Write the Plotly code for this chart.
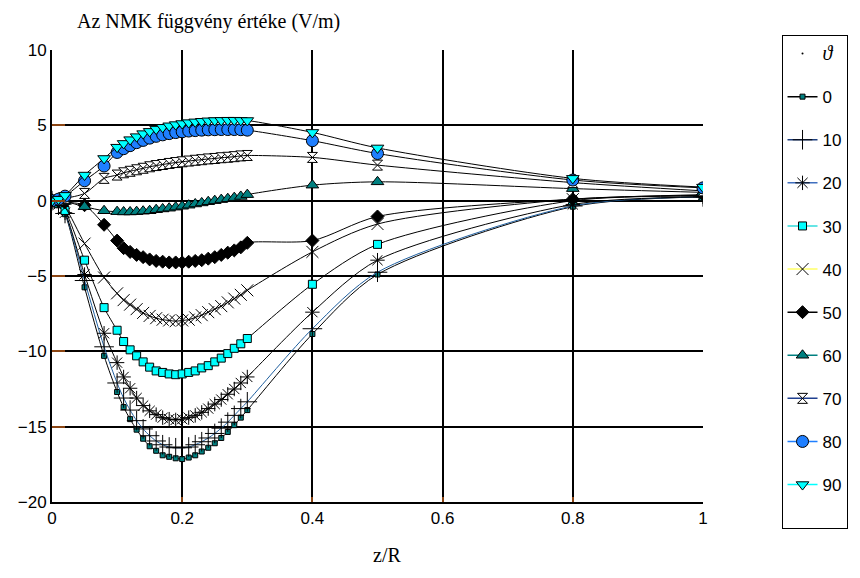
import plotly.graph_objects as go

# ---- data ----
z_R = [0, 0.01, 0.02, 0.05, 0.08,
       0.10, 0.11, 0.12, 0.13, 0.14, 0.15, 0.16, 0.17, 0.18, 0.19, 0.20,
       0.21, 0.22, 0.23, 0.24, 0.25, 0.26, 0.27, 0.28, 0.29, 0.30,
       0.4, 0.5, 0.8, 1.0]

theta_labels = ["0", "10", "20", "30", "40", "50", "60", "70", "80", "90"]

s0 = [0, -0.3, -0.9, -5.75, -10.3, -12.7, -13.7, -14.5, -15.2, -15.8, -16.3, -16.6, -16.9, -17.0, -17.1, -17.15,
      -17.05, -16.9, -16.65, -16.4, -16.1, -15.75, -15.35, -14.9, -14.4, -13.9, -8.85, -4.9, -0.4, 0.25]
s10 = [0, -0.3, -0.85, -5.3, -9.7, -12.1, -13.1, -13.9, -14.6, -15.15, -15.6, -15.95, -16.2, -16.35, -16.4, -16.4,
       -16.35, -16.2, -16.0, -15.75, -15.45, -15.1, -14.7, -14.25, -13.8, -13.35, -8.5, -4.75, -0.35, 0.25]
s20 = [0, -0.25, -0.8, -4.9, -8.8, -10.75, -11.7, -12.45, -13.1, -13.6, -13.95, -14.2, -14.4, -14.5, -14.55, -14.5,
       -14.4, -14.25, -14.05, -13.8, -13.5, -13.2, -12.85, -12.5, -12.1, -11.7, -7.4, -3.95, -0.25, 0.25]
s30 = [0, -0.2, -0.65, -3.95, -7.1, -8.6, -9.35, -9.9, -10.3, -10.7, -11.05, -11.3, -11.4, -11.5, -11.55, -11.5,
       -11.4, -11.3, -11.1, -10.95, -10.7, -10.45, -10.15, -9.8, -9.5, -9.15, -5.55, -2.9, 0.0, 0.3]
s40 = [0, -0.15, -0.45, -2.85, -5.1, -6.15, -6.6, -6.9, -7.2, -7.45, -7.65, -7.8, -7.9, -7.95, -8.0, -7.95,
       -7.9, -7.75, -7.6, -7.4, -7.2, -7.0, -6.75, -6.5, -6.25, -5.95, -3.4, -1.55, 0.1, 0.35]
s50 = [0, -0.05, -0.1, -0.3, -1.6, -2.65, -3.15, -3.4, -3.6, -3.75, -3.9, -4.0, -4.05, -4.1, -4.1, -4.1,
       -4.05, -4.0, -3.95, -3.85, -3.75, -3.6, -3.45, -3.3, -3.1, -2.8, -2.65, -1.05, 0.1, 0.4]
s60 = [0, 0, -0.05, -0.4, -0.67, -0.73, -0.75, -0.75, -0.73, -0.7, -0.67, -0.6, -0.55, -0.5, -0.43, -0.37,
       -0.3, -0.22, -0.15, -0.07, 0.0, 0.07, 0.13, 0.2, 0.28, 0.4, 1.03, 1.25, 0.8, 0.55]
s70 = [0, 0.05, 0.15, 0.48, 1.48, 1.7, 1.85, 1.95, 2.05, 2.15, 2.25, 2.33, 2.4, 2.47, 2.53, 2.58,
       2.63, 2.68, 2.72, 2.77, 2.8, 2.85, 2.88, 2.92, 2.97, 3.0, 2.87, 2.36, 1.2, 0.65]
s80 = [0, 0.1, 0.3, 1.32, 2.3, 3.2, 3.45, 3.65, 3.85, 4.0, 4.15, 4.27, 4.37, 4.45, 4.52, 4.57,
       4.62, 4.65, 4.68, 4.7, 4.71, 4.72, 4.72, 4.72, 4.71, 4.68, 3.98, 3.13, 1.37, 0.85]
s90 = [0, 0.1, 0.35, 1.7, 2.8, 3.55, 3.8, 4.05, 4.25, 4.45, 4.6, 4.75, 4.87, 4.97, 5.05, 5.12,
       5.18, 5.23, 5.27, 5.3, 5.32, 5.33, 5.34, 5.34, 5.33, 5.32, 4.53, 3.5, 1.48, 0.9]

series = [s0, s10, s20, s30, s40, s50, s60, s70, s80, s90]

x_ticks = [0, 0.2, 0.4, 0.6, 0.8, 1]
x_tick_text = ["0", "0.2", "0.4", "0.6", "0.8", "1"]
y_ticks = [-20, -15, -10, -5, 0, 5, 10]

# ---- styles ----
TEAL = "#008080"
CYAN = "#00FFFF"
BLUE = "#1F7FFF"
styles = [
    dict(symbol="square", size=5, color=TEAL, lc="black", lw=1),
    dict(symbol="cross-thin-open", size=14, color="black", lc="black", lw=1),
    dict(symbol="asterisk-open", size=12, color="black", lc="black", lw=1),
    dict(symbol="square", size=8, color=CYAN, lc="black", lw=1),
    dict(symbol="x-thin-open", size=12, color="black", lc="black", lw=1),
    dict(symbol="diamond", size=10, color="black", lc="black", lw=1),
    dict(symbol="triangle-up", size=11, color=TEAL, lc="black", lw=1),
    dict(symbol="hourglass", size=10, color="white", lc="black", lw=1),
    dict(symbol="circle", size=12, color=BLUE, lc="black", lw=1),
    dict(symbol="triangle-down", size=11, color=CYAN, lc="black", lw=1),
]
chart_line_colors = ["black", "#1F5F9F", "black", "black", "black",
                     "black", "black", "black", "black", "black"]
legend_line_colors = ["black", "#1F3F7F", "#3F6FBF", "#33DDDD", "#FFFF66",
                      "black", TEAL, "#1F3F8F", BLUE, CYAN]

fig = go.Figure()

# legend header entry (ϑ)
fig.add_trace(go.Scatter(
    x=[None], y=[None], mode="markers",
    marker=dict(size=1, color="black"),
    name="<span style='font-family:Liberation Serif;font-style:italic;font-size:20px'>ϑ</span>",
    legendgroup="hdr",
))

for i, (lab, ys) in enumerate(zip(theta_labels, series)):
    st = styles[i]
    fig.add_trace(go.Scatter(
        x=z_R, y=ys, mode="lines+markers",
        line=dict(color=chart_line_colors[i], width=1, shape="spline", smoothing=0.8),
        marker=dict(symbol=st["symbol"], size=st["size"], color=st["color"],
                    line=dict(color=st["lc"], width=st["lw"])),
        showlegend=False, name=lab, legendgroup="g" + lab,
    ))

for i, lab in enumerate(theta_labels):
    st = styles[i]
    fig.add_trace(go.Scatter(
        x=[None], y=[None], mode="lines+markers",
        line=dict(color=legend_line_colors[i], width=1.5),
        marker=dict(symbol=st["symbol"], size=st["size"], color=st["color"],
                    line=dict(color=st["lc"], width=st["lw"])),
        name=lab, legendgroup="g" + lab,
    ))

# blank spacer entry at the bottom of the legend box (same group as the last item)
fig.add_trace(go.Scatter(
    x=[None], y=[None], mode="markers",
    marker=dict(size=1, color="rgba(0,0,0,0)"),
    name="<span style='font-size:8px'> </span>", legendgroup="g90",
))

L, R, T, B = 52, 153, 50, 76
W, H = 860, 578
pw, ph = W - L - R, H - T - B

fig.update_layout(
    width=W, height=H,
    margin=dict(l=L, r=R, t=T, b=B),
    paper_bgcolor="white", plot_bgcolor="white",
    font=dict(family="Liberation Sans, Arial, sans-serif", size=17, color="black"),
    showlegend=True,
    legend=dict(
        x=(786 - L) / pw, y=(H - B - 35) / ph, xanchor="left", yanchor="top",
        bordercolor="black", borderwidth=1, bgcolor="white",
        font=dict(size=17), tracegroupgap=18,
        itemwidth=30, maxheight=560,
    ),
    xaxis=dict(
        range=[0, 1], tickvals=x_ticks, ticktext=x_tick_text,
        showgrid=True, gridcolor="black", gridwidth=1.5,
        showline=True, linecolor="black", linewidth=2,
        ticks="inside", ticklen=5, tickcolor="#8B4513", tickwidth=1.5,
        zeroline=False, tickfont=dict(size=17),
    ),
    yaxis=dict(
        range=[-20, 10], tickvals=y_ticks,
        showgrid=True, gridcolor="black", gridwidth=1.5,
        showline=True, linecolor="black", linewidth=2,
        ticks="inside", ticklen=13, tickcolor="#8B4513", tickwidth=1.5,
        zeroline=False, tickfont=dict(size=17),
    ),
    annotations=[
        dict(text="Az NMK függvény értéke (V/m)", xref="paper", yref="paper",
             x=(75 - L) / pw, y=(H - B - 22) / ph, xanchor="left", yanchor="middle",
             showarrow=False, font=dict(family="Liberation Serif, Times New Roman, serif", size=20)),
        dict(text="z/R", xref="paper", yref="paper",
             x=(389 - L) / pw, y=(H - B - 555) / ph, xanchor="center", yanchor="middle",
             showarrow=False, font=dict(family="Liberation Serif, Times New Roman, serif", size=20)),
    ],
)

fig.write_html("out.html")
